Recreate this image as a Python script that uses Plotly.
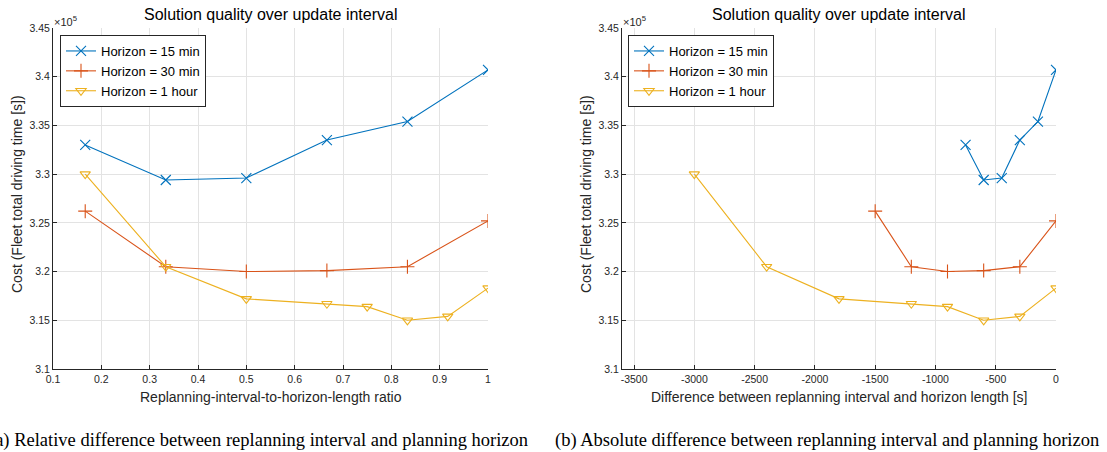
import plotly.graph_objects as go

W, H = 1107, 452

# ---- data (cost in units of 1e5 s) ----
ratio_15 = [1/6, 1/3, 1/2, 2/3, 5/6, 1]
diff_15 = [-750, -600, -450, -300, -150, 0]
cost_15 = [3.330, 3.294, 3.296, 3.335, 3.354, 3.407]

ratio_30 = [1/6, 1/3, 1/2, 2/3, 5/6, 1]
diff_30 = [-1500, -1200, -900, -600, -300, 0]
cost_30 = [3.262, 3.205, 3.200, 3.201, 3.205, 3.252]

ratio_60 = [1/6, 1/3, 1/2, 2/3, 3/4, 5/6, 11/12, 1]
diff_60 = [-3000, -2400, -1800, -1200, -900, -600, -300, 0]
cost_60 = [3.300, 3.205, 3.172, 3.167, 3.164, 3.150, 3.154, 3.183]

series_names = ["Horizon = 15 min", "Horizon = 30 min", "Horizon = 1 hour"]
colors = ["#0072BD", "#D95319", "#EDB120"]
symbols = ["x-thin-open", "cross-thin-open", "triangle-down-open"]

x_ticks_a = [0.1, 0.2, 0.3, 0.4, 0.5, 0.6, 0.7, 0.8, 0.9, 1.0]
x_ticktext_a = ["0.1", "0.2", "0.3", "0.4", "0.5", "0.6", "0.7", "0.8", "0.9", "1"]
x_ticks_b = [-3500, -3000, -2500, -2000, -1500, -1000, -500, 0]
x_ticktext_b = ["-3500", "-3000", "-2500", "-2000", "-1500", "-1000", "-500", "0"]
y_ticks = [3.1, 3.15, 3.2, 3.25, 3.3, 3.35, 3.4, 3.45]
y_ticktext = ["3.1", "3.15", "3.2", "3.25", "3.3", "3.35", "3.4", "3.45"]

title_text = "Solution quality over update interval"
ylabel = "Cost (Fleet total driving time [s])"
xlabel_a = "Replanning-interval-to-horizon-length ratio"
xlabel_b = "Difference between replanning interval and horizon length [s]"
caption_a = "(a) Relative difference between replanning interval and planning horizon"
caption_b = "(b) Absolute difference between replanning interval and planning horizon"

# ---- layout geometry (pixels) ----
axA = (53, 488)
axB = (622, 1056)
top_px, bot_px = 28, 369

def px_x(p):
    return p / W

def px_y(p):
    return 1 - p / H

ydom = [px_y(bot_px), px_y(top_px)]

fig = go.Figure()

xs_a = [ratio_15, ratio_30, ratio_60]
xs_b = [diff_15, diff_30, diff_60]
ys = [cost_15, cost_30, cost_60]

for i in range(3):
    marker = dict(symbol=symbols[i], size=10 if i < 2 else 9, color=colors[i],
                  line=dict(width=1.1, color=colors[i]))
    fig.add_trace(go.Scatter(x=xs_a[i], y=ys[i], mode="lines+markers", name=series_names[i],
                             line=dict(color=colors[i], width=1.1), marker=marker,
                             xaxis="x", yaxis="y", legend="legend"))
    fig.add_trace(go.Scatter(x=xs_b[i], y=ys[i], mode="lines+markers", name=series_names[i],
                             line=dict(color=colors[i], width=1.1), marker=marker,
                             xaxis="x2", yaxis="y2", legend="legend2"))

tick_font = dict(family="Liberation Sans, Arial, sans-serif", size=10.5, color="#262626")
axis_common = dict(showline=True, linecolor="#262626", linewidth=1, showgrid=True,
                   gridcolor="#e3e3e3", gridwidth=1, ticks="inside", ticklen=4,
                   tickcolor="#262626", tickfont=tick_font, zeroline=False, mirror=False,
                   automargin=False)

legend_font = dict(family="Liberation Sans, Arial, sans-serif", size=13, color="#000")
fig.update_layout(
    width=W, height=H,
    margin=dict(l=0, r=0, t=0, b=0, autoexpand=False),
    paper_bgcolor="white", plot_bgcolor="white",
    xaxis=dict(domain=[px_x(axA[0]), px_x(axA[1])], range=[0.1, 1.0], tickvals=x_ticks_a,
               ticktext=x_ticktext_a, anchor="y", **axis_common),
    yaxis=dict(domain=ydom, range=[3.1, 3.45], tickvals=y_ticks, ticktext=y_ticktext,
               anchor="x", **axis_common),
    xaxis2=dict(domain=[px_x(axB[0]), px_x(axB[1])], range=[-3600, 0], tickvals=x_ticks_b,
                ticktext=x_ticktext_b, anchor="y2", **axis_common),
    yaxis2=dict(domain=ydom, range=[3.1, 3.45], tickvals=y_ticks, ticktext=y_ticktext,
                anchor="x2", **axis_common),
    legend=dict(x=px_x(60), y=px_y(35), xanchor="left", yanchor="top",
                bordercolor="#262626", borderwidth=1, bgcolor="white",
                font=legend_font, tracegroupgap=0, itemwidth=30),
    legend2=dict(x=px_x(628), y=px_y(35), xanchor="left", yanchor="top",
                 bordercolor="#262626", borderwidth=1, bgcolor="white",
                 font=legend_font, tracegroupgap=0, itemwidth=30),
    showlegend=True,
)

label_font = dict(family="Liberation Sans, Arial, sans-serif", size=14, color="#262626")
title_font = dict(family="Liberation Sans, Arial, sans-serif", size=16, color="#000")

annotations = []
for (x0, x1), xl in [(axA, xlabel_a), (axB, xlabel_b)]:
    cx = (x0 + x1) / 2
    annotations.append(dict(x=px_x(cx), y=px_y(15), xref="paper", yref="paper", text=title_text,
                            showarrow=False, font=title_font, xanchor="center", yanchor="middle"))
    annotations.append(dict(x=px_x(cx), y=px_y(397), xref="paper", yref="paper", text=xl,
                            showarrow=False, font=label_font, xanchor="center", yanchor="middle"))
    annotations.append(dict(x=px_x(x0 - 1), y=px_y(21), xref="paper", yref="paper",
                            text="×10<sup>5</sup>", showarrow=False,
                            font=dict(family="Liberation Sans, Arial, sans-serif", size=11, color="#262626"),
                            xanchor="left", yanchor="middle"))
    annotations.append(dict(x=px_x(x0 - 36), y=px_y(194), xref="paper", yref="paper",
                            text=ylabel, textangle=-90, showarrow=False, font=label_font,
                            xanchor="center", yanchor="middle"))

cap_font = dict(family="Liberation Serif, Times New Roman, serif", size=18.5, color="#000")
annotations.append(dict(x=px_x(530), y=px_y(440), xref="paper", yref="paper", text=caption_a,
                        showarrow=False, font=cap_font, xanchor="right", yanchor="middle"))
annotations.append(dict(x=px_x(553), y=px_y(440), xref="paper", yref="paper", text=caption_b,
                        showarrow=False, font=cap_font, xanchor="left", yanchor="middle"))
fig.update_layout(annotations=annotations)

fig.write_html("out.html")
